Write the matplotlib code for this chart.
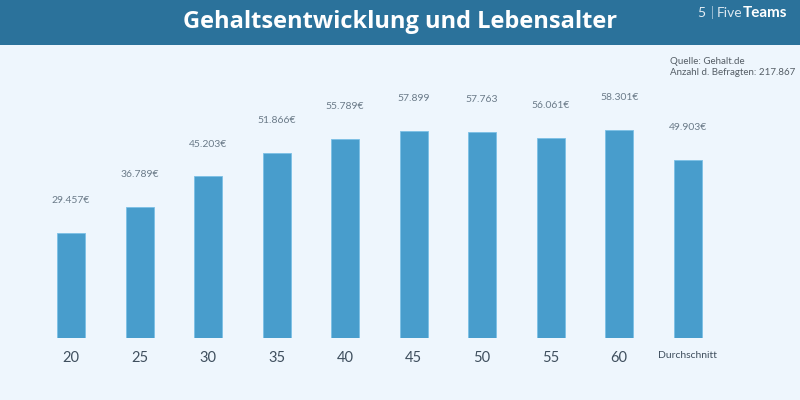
import matplotlib.pyplot as plt
from matplotlib.patches import Rectangle

# data
ages = ["20", "25", "30", "35", "40", "45", "50", "55", "60", "Durchschnitt"]
gehalt = [29457, 36789, 45203, 51866, 55789, 57899, 57763, 56061, 58301, 49903]
labels = ["29.457€", "36.789€", "45.203€", "51.866€", "55.789€", "57.899",
          "57.763", "56.061€", "58.301€", "49.903€"]

bg = "#eef6fd"
header = "#2b729b"
bar_color = "#489dcc"
text_grey = "#6b7b89"

fig = plt.figure(figsize=(8, 4), dpi=100)
fig.patch.set_facecolor(bg)

# header band
fig.patches.append(Rectangle((0, 0.8875), 1, 0.1125, transform=fig.transFigure,
                             facecolor=header, edgecolor="none", zorder=0))
fig.text(0.5, 0.944, "Gehaltsentwicklung und Lebensalter", ha="center", va="center",
         color="white", fontsize=17, fontweight="bold", family="Open Sans")
fig.text(0.871, 0.968, "5", ha="left", va="center", color="#e4edf4", fontsize=10,
         family="Lato")
fig.text(0.888, 0.968, "|", ha="left", va="center", color="#9fbfd5", fontsize=9,
         family="Lato")
fig.text(0.896, 0.968, "Five", ha="left", va="center", color="#dbe7f0", fontsize=10,
         family="Lato")
fig.text(0.929, 0.968, "Teams", ha="left", va="center", color="white", fontsize=11,
         family="Lato", fontweight="bold")

fig.text(0.837, 0.846, "Quelle: Gehalt.de", ha="left", va="center", color="#555e66",
         fontsize=7, family="Lato")
fig.text(0.837, 0.818, "Anzahl d. Befragten: 217.867", ha="left", va="center",
         color="#555e66", fontsize=7, family="Lato")

ax = fig.add_axes([0.046, 0.155, 0.8565, 0.67])
ax.set_facecolor("none")
x = list(range(len(ages)))
bars = ax.bar(x, gehalt, width=0.41, color=bar_color, edgecolor="#7cc0e6", linewidth=0.6)

for b, lab in zip(bars, labels):
    ax.annotate(lab, (b.get_x() + b.get_width() / 2, b.get_height()),
                xytext=(0, 20), textcoords="offset points", ha="center", va="bottom",
                fontsize=7.5, color=text_grey, family="Lato")

ax.set_xlim(-0.5, 9.5)
ax.set_ylim(0, 75000)
ax.set_xticks(x)
ax.set_xticklabels(ages, fontsize=10.5, color="#3f4f5e", family="Lato")
ax.get_xticklabels()[-1].set_fontsize(7.5)
ax.tick_params(axis="x", length=0, pad=9)
ax.set_yticks([])
for s in ax.spines.values():
    s.set_visible(False)

fig.savefig("out.png", dpi=100, facecolor=fig.get_facecolor())
